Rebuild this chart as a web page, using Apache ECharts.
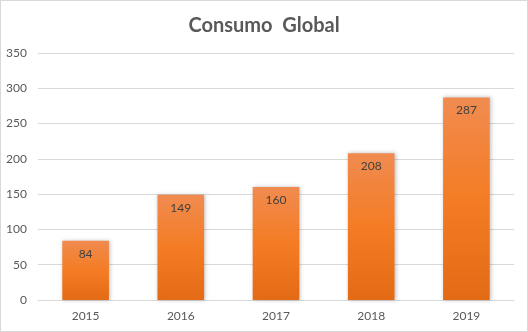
<!DOCTYPE html>
<html>
<head>
<meta charset="utf-8">
<script src="https://cdn.jsdelivr.net/npm/echarts@6/dist/echarts.min.js"></script>
<style>
html,body{margin:0;padding:0;background:#fff;}
#chart{width:528px;height:332px;box-sizing:border-box;border:1px solid #d9d9d9;}
</style>
</head>
<body>
<div id="chart"></div>
<script>
const categories = ['2015', '2016', '2017', '2018', '2019'];
const consumo = [84, 149, 160, 208, 287];
const yTicks = [0, 50, 100, 150, 200, 250, 300, 350];

const chart = echarts.init(document.getElementById('chart'));
chart.setOption({
  animation: false,
  title: {
    text: 'Consumo  Global',
    left: 'center',
    top: 10,
    textStyle: { fontFamily: 'Lato', fontWeight: 'bold', fontSize: 20, color: '#595959' }
  },
  grid: { left: 37, right: 13, top: 52, bottom: 31 },
  xAxis: {
    type: 'category',
    data: categories,
    axisLine: { lineStyle: { color: '#d9d9d9' } },
    axisTick: { show: false },
    axisLabel: { color: '#595959', fontFamily: 'Lato', fontSize: 12, margin: 10 }
  },
  yAxis: {
    type: 'value',
    min: yTicks[0],
    max: yTicks[yTicks.length - 1],
    interval: 50,
    axisLine: { show: false },
    axisTick: { show: false },
    splitLine: { lineStyle: { color: '#d9d9d9' } },
    axisLabel: { color: '#595959', fontFamily: 'Lato', fontSize: 12, margin: 11 }
  },
  series: [{
    type: 'bar',
    data: consumo,
    barWidth: '49%',
    itemStyle: {
      color: new echarts.graphic.LinearGradient(0, 0, 0, 1, [
        { offset: 0, color: '#f08b50' },
        { offset: 0.5, color: '#f47c24' },
        { offset: 1, color: '#e36b15' }
      ]),
      shadowColor: 'rgba(0,0,0,0.25)',
      shadowBlur: 4,
      shadowOffsetX: 1
    },
    label: {
      show: true,
      position: 'insideTop',
      distance: 7,
      color: '#404040',
      fontFamily: 'Lato',
      fontSize: 12
    }
  }]
});
</script>
</body>
</html>
